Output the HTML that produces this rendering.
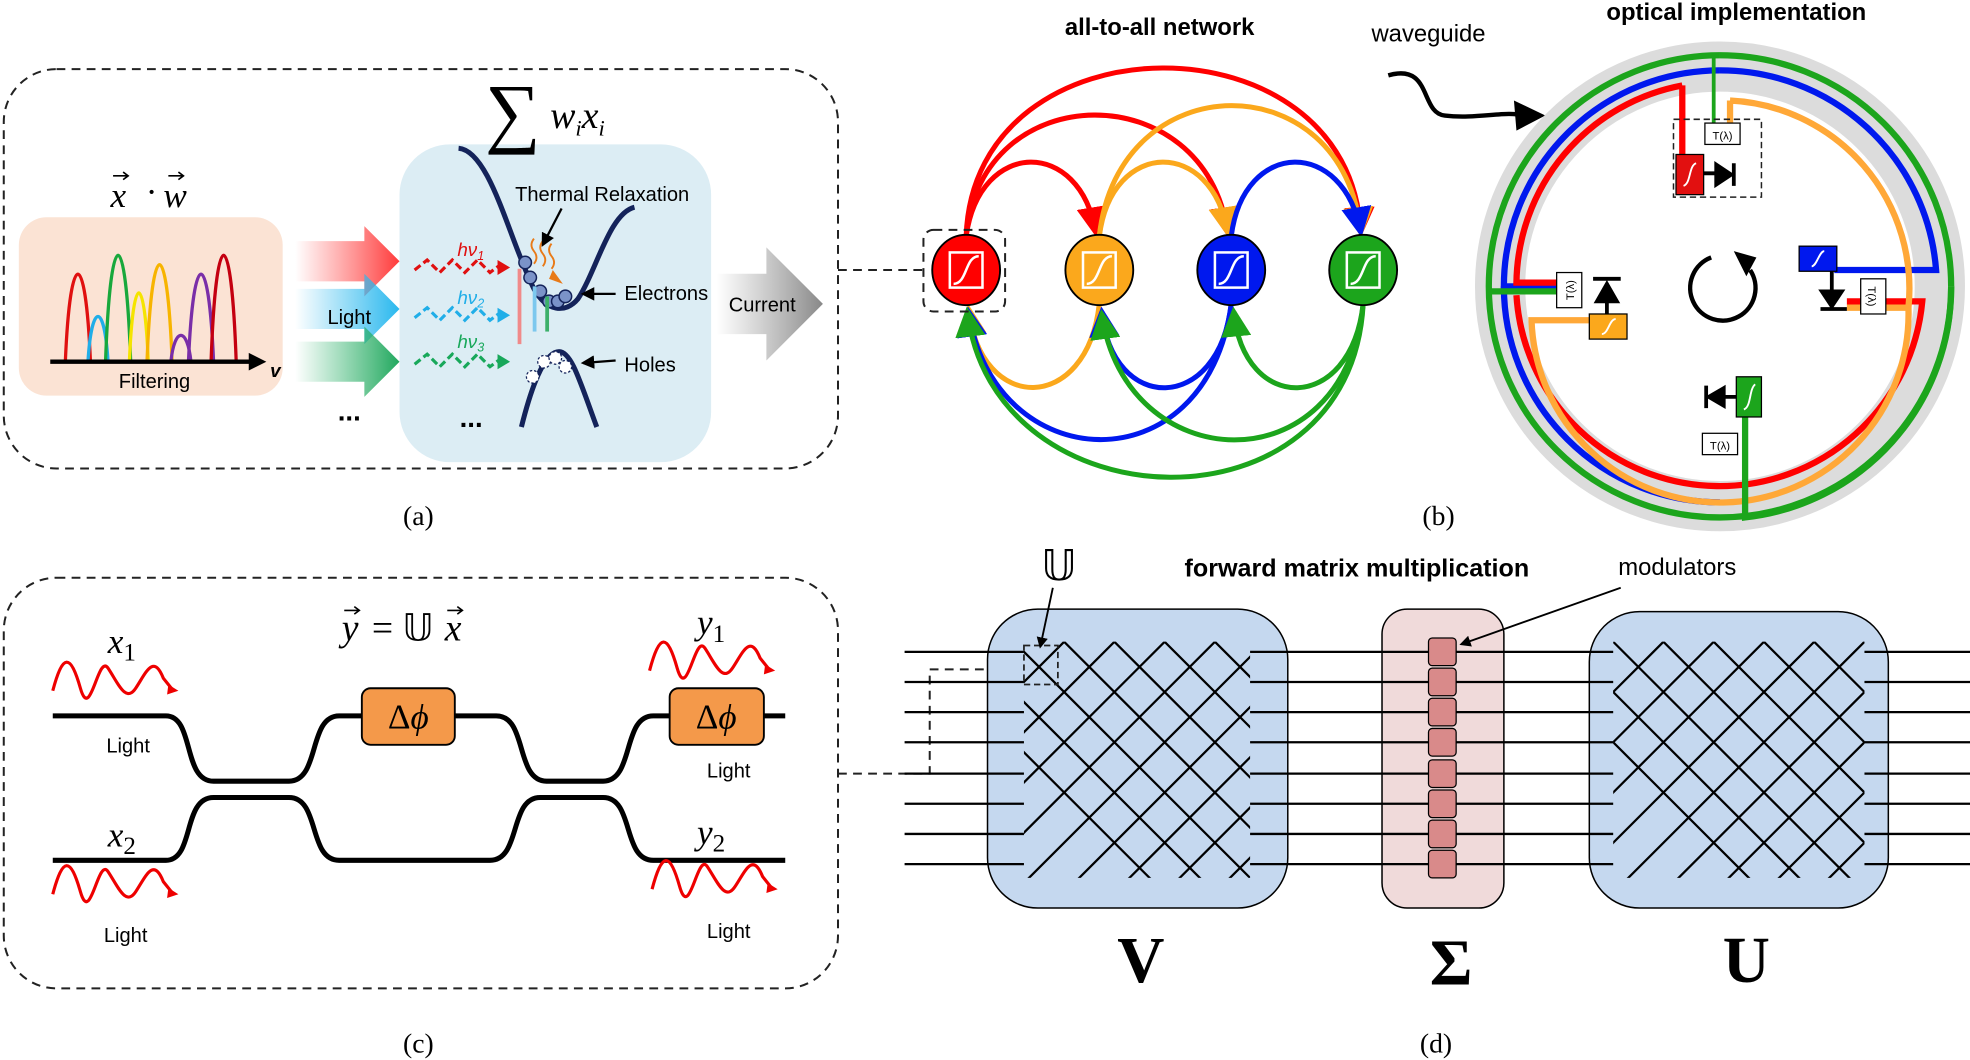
<!DOCTYPE html>
<html><head><meta charset="utf-8"><style>html,body{margin:0;padding:0;background:#fff;width:1970px;height:1060px;overflow:hidden}svg{display:block}</style></head>
<body>
<svg width="1970" height="1060" viewBox="0 0 1568 844" preserveAspectRatio="none" xmlns="http://www.w3.org/2000/svg" font-family="Liberation Sans, sans-serif">
<defs>
<linearGradient id="gR" x1="0" x2="1"><stop offset="0" stop-color="#ff4b4b" stop-opacity="0"/><stop offset="1" stop-color="#ff3b3b"/></linearGradient>
<linearGradient id="gB" x1="0" x2="1"><stop offset="0" stop-color="#2ab8ee" stop-opacity="0"/><stop offset="1" stop-color="#2ab8ee"/></linearGradient>
<linearGradient id="gG" x1="0" x2="1"><stop offset="0" stop-color="#2bb36a" stop-opacity="0"/><stop offset="1" stop-color="#22a85e"/></linearGradient>
<linearGradient id="gK" x1="0" x2="1"><stop offset="0" stop-color="#999" stop-opacity="0"/><stop offset="1" stop-color="#888"/></linearGradient>
<marker id="mr" markerWidth="6" markerHeight="6" refX="5" refY="3" orient="auto" markerUnits="strokeWidth"><path d="M0,0L6,3L0,6z" fill="#f00"/></marker>
<marker id="mo" markerWidth="6" markerHeight="6" refX="5" refY="3" orient="auto" markerUnits="strokeWidth"><path d="M0,0L6,3L0,6z" fill="#fba81c"/></marker>
<marker id="mb" markerWidth="6" markerHeight="6" refX="5" refY="3" orient="auto" markerUnits="strokeWidth"><path d="M0,0L6,3L0,6z" fill="#0018ee"/></marker>
<marker id="mg" markerWidth="6" markerHeight="6" refX="5" refY="3" orient="auto" markerUnits="strokeWidth"><path d="M0,0L6,3L0,6z" fill="#1ca51c"/></marker>
<marker id="mk" markerWidth="6" markerHeight="6" refX="5" refY="3" orient="auto" markerUnits="strokeWidth"><path d="M0,0L6,3L0,6z" fill="#000"/></marker>
<clipPath id="cV"><rect x="815" y="511" width="180" height="188"/></clipPath>
<clipPath id="cU"><rect x="1284" y="511" width="200" height="188"/></clipPath>
</defs>

<!-- ========== (a) ========== -->
<rect x="3" y="55" width="664" height="318" rx="42" fill="none" stroke="#222" stroke-width="1.6" stroke-dasharray="7,5"/>
<rect x="15" y="173" width="210" height="142" rx="22" fill="#fbe3d4"/>
<g fill="none" stroke-width="2.6">
<path d="M52,288C56,195 68,195 72,288" stroke="#e01010"/>
<path d="M70,288C73,240 83,240 86,288" stroke="#20aee8"/>
<path d="M84,288C88,175 100,175 104,288" stroke="#18a83c"/>
<path d="M103,288C106,215 115,215 118,288" stroke="#f5e400"/>
<path d="M117,288C121,185 133,185 137,288" stroke="#f7b400"/>
<path d="M136,288C139,260 149,260 152,288" stroke="#7a2ea8"/>
<path d="M150,288C154,195 166,195 170,288" stroke="#7a2ea8"/>
<path d="M168,288C172,175 184,175 188,288" stroke="#c40010"/>
</g>
<line x1="40" y1="288" x2="200" y2="288" stroke="#000" stroke-width="3.5"/>
<path d="M198,281L212,288L198,295z" fill="#000"/>
<text x="215" y="300" font-size="15" font-weight="bold" font-style="italic">v</text>
<text x="123" y="309" font-size="16" text-anchor="middle">Filtering</text>
<g font-family="Liberation Serif, serif" font-size="28" font-style="italic">
<text x="88" y="165">x</text><text x="116" y="162" font-style="normal">·</text><text x="130" y="165">w</text>
</g>
<g stroke="#000" stroke-width="1.3" fill="none"><path d="M90,140H102M98,137L102,140L98,143"/><path d="M134,140H146M142,137L146,140L142,143"/></g>
<path d="M235,192H290V180L318,208L290,236V224H235z" fill="url(#gR)"/>
<path d="M235,230H290V218L318,246L290,274V262H235z" fill="url(#gB)"/>
<path d="M235,272H290V260L318,288L290,316V304H235z" fill="url(#gG)"/>
<text x="278" y="258" font-size="16" text-anchor="middle">Light</text>
<text x="278" y="335" font-size="22" font-weight="bold" text-anchor="middle">...</text>
<rect x="318" y="115" width="248" height="253" rx="40" fill="#dcedf4"/>
<text x="386" y="110" font-size="62" font-family="Liberation Serif, serif">∑</text>
<text x="438" y="102" font-size="30" font-family="Liberation Serif, serif" font-style="italic">w<tspan font-size="18" dy="6">i</tspan><tspan dy="-6">x</tspan><tspan font-size="18" dy="6">i</tspan></text>
<path d="M365,118C390,120 405,190 425,230C435,248 450,250 460,238C475,215 485,170 505,165" fill="none" stroke="#14235a" stroke-width="4"/>
<path d="M415,340C425,300 435,280 445,280C455,280 462,305 475,340" fill="none" stroke="#14235a" stroke-width="4"/>
<g fill="#7b93c8" stroke="#14235a" stroke-width="1.2">
<circle cx="418" cy="209" r="5"/><circle cx="422" cy="221" r="5"/><circle cx="430" cy="232" r="5"/><circle cx="437" cy="240" r="5"/><circle cx="444" cy="240" r="5"/><circle cx="450" cy="236" r="5"/>
</g>
<g fill="#fff" stroke="#14235a" stroke-width="1" stroke-dasharray="2,1.5"><circle cx="424" cy="300" r="5"/><circle cx="433" cy="288" r="5"/><circle cx="442" cy="285" r="5"/><circle cx="450" cy="292" r="5"/></g>
<g fill="none" stroke-width="2.5" stroke-dasharray="6,3">
<path d="M330,215l10,-8l10,10l10,-10l10,10l10,-10l10,10l8,-6" stroke="#e01010"/>
<path d="M330,253l10,-8l10,10l10,-10l10,10l10,-10l10,10l8,-6" stroke="#20aee8"/>
<path d="M330,290l10,-8l10,10l10,-10l10,10l10,-10l10,10l8,-6" stroke="#18a85a"/>
</g>
<path d="M396,207l10,6l-10,6z" fill="#e01010"/><path d="M396,245l10,6l-10,6z" fill="#20aee8"/><path d="M396,282l10,6l-10,6z" fill="#18a85a"/>
<text x="364" y="204" font-size="15" font-style="italic" fill="#e01010">hν<tspan font-size="10" dy="3">1</tspan></text>
<text x="364" y="242" font-size="15" font-style="italic" fill="#20aee8">hν<tspan font-size="10" dy="3">2</tspan></text>
<text x="364" y="277" font-size="15" font-style="italic" fill="#18a85a">hν<tspan font-size="10" dy="3">3</tspan></text>
<rect x="412" y="214" width="3" height="60" fill="#f08a8a"/><rect x="424" y="228" width="3" height="36" fill="#7cc8ee"/><rect x="434" y="236" width="3" height="28" fill="#3cb06a"/>
<path d="M425,210q4,-5 0,-10q-4,-5 0,-10M432,212q4,-5 0,-10q-4,-5 0,-10M439,214q4,-5 0,-10q-4,-5 0,-10" fill="none" stroke="#e87a18" stroke-width="1.5"/>
<path d="M437,222L448,226L440,215z" fill="#e87a18"/>
<text x="410" y="160" font-size="16">Thermal Relaxation</text>
<line x1="447" y1="166" x2="432" y2="195" stroke="#000" stroke-width="1.8" marker-end="url(#mk)"/>
<text x="497" y="239" font-size="16">Electrons</text>
<line x1="490" y1="234" x2="464" y2="234" stroke="#000" stroke-width="1.8" marker-end="url(#mk)"/>
<text x="497" y="296" font-size="16">Holes</text>
<line x1="490" y1="287" x2="464" y2="289" stroke="#000" stroke-width="1.8" marker-end="url(#mk)"/>
<text x="375" y="340" font-size="22" font-weight="bold" text-anchor="middle">...</text>
<path d="M570,218H610V197L655,242L610,287V266H570z" fill="url(#gK)"/>
<text x="580" y="248" font-size="16">Current</text>
<text x="333" y="418" font-size="22" font-family="Liberation Serif, serif" text-anchor="middle">(a)</text>
<path d="M667,215H735" stroke="#222" stroke-width="1.6" stroke-dasharray="7,5"/>

<!-- ========== (b) network ========== -->
<text x="923" y="28" font-size="19" font-weight="bold" text-anchor="middle">all-to-all network</text>
<g fill="none" stroke-width="4">
<path d="M769,188C775,10 1075,10 1083,185" stroke="#f00" marker-end="url(#mr)"/>
<path d="M769,188C780,60 960,60 977,185" stroke="#f00" marker-end="url(#mr)"/>
<path d="M769,188C780,110 860,110 872,185" stroke="#f00" marker-end="url(#mr)"/>
<path d="M875,188C890,50 1070,50 1083,185" stroke="#fba81c" marker-end="url(#mo)"/>
<path d="M875,188C885,110 965,110 977,185" stroke="#fba81c" marker-end="url(#mo)"/>
<path d="M980,188C990,110 1070,110 1083,185" stroke="#0018ee" marker-end="url(#mb)"/>
<path d="M875,242C865,330 780,330 771,246" stroke="#fba81c" marker-end="url(#mo)"/>
<path d="M980,242C960,390 790,380 771,248" stroke="#0018ee" marker-end="url(#mb)"/>
<path d="M980,242C970,330 885,330 877,248" stroke="#0018ee" marker-end="url(#mb)"/>
<path d="M1085,242C1075,430 790,420 770,248" stroke="#1ca51c" marker-end="url(#mg)"/>
<path d="M1085,242C1070,390 895,380 877,250" stroke="#1ca51c" marker-end="url(#mg)"/>
<path d="M1085,242C1075,330 990,330 982,248" stroke="#1ca51c" marker-end="url(#mg)"/>
</g>
<g stroke="#000" stroke-width="1.5">
<ellipse cx="769" cy="215" rx="27" ry="28" fill="#f00"/>
<ellipse cx="875" cy="215" rx="27" ry="28" fill="#fba81c"/>
<ellipse cx="980" cy="215" rx="27" ry="28" fill="#0018ee"/>
<ellipse cx="1085" cy="215" rx="27" ry="28" fill="#1ca51c"/>
</g>
<g fill="none" stroke="#fff" stroke-width="2">
<rect x="756" y="201" width="26" height="28"/><path d="M759,226C770,226 768,204 779,204"/>
<rect x="862" y="201" width="26" height="28"/><path d="M865,226C876,226 874,204 885,204"/>
<rect x="967" y="201" width="26" height="28"/><path d="M970,226C981,226 979,204 990,204"/>
<rect x="1072" y="201" width="26" height="28"/><path d="M1075,226C1086,226 1084,204 1095,204"/>
</g>
<rect x="735" y="183" width="65" height="65" rx="8" fill="none" stroke="#222" stroke-width="1.6" stroke-dasharray="7,5"/>
<text x="1145" y="418" font-size="22" font-family="Liberation Serif, serif" text-anchor="middle">(b)</text>

<!-- ========== (b) ring ========== -->
<text x="1382" y="16" font-size="19" font-weight="bold" text-anchor="middle">optical implementation</text>
<text x="1137" y="33" font-size="19" text-anchor="middle">waveguide</text>
<path d="M1105,60C1140,50 1130,90 1150,92C1175,95 1200,88 1212,92" fill="none" stroke="#000" stroke-width="3.5"/>
<path d="M1205,80L1230,92L1207,104z" fill="#000"/>
<circle cx="1369" cy="228" r="175" fill="none" stroke="#dcdcdc" stroke-width="40"/>
<g fill="none" stroke-width="5">
<path d="M1369,44A184,184 0 1 0 1553,228" stroke="#1ca51c"/>
<path d="M1369,44A184,184 0 0 1 1553,228" stroke="#1ca51c"/>
<path d="M1369,56A172,172 0 0 1 1541,215H1460" stroke="#0018ee"/>
<path d="M1369,56A172,172 0 0 0 1197,228H1250" stroke="#0018ee"/>
<path d="M1197,228A172,172 0 0 0 1369,400" stroke="#0018ee"/>
<path d="M1339,68A162,162 0 0 0 1207,225H1245M1339,68V125" stroke="#f00"/>
<path d="M1207,235A162,162 0 0 0 1530,240H1470" stroke="#f00"/>
<path d="M1377,80A150,150 0 0 1 1519,245H1470M1377,80V100" stroke="#ffa838"/>
<path d="M1283,255H1219A150,150 0 0 0 1519,245" stroke="#ffa838"/>
<path d="M1389,330V412A184,184 0 0 0 1553,228" stroke="#1ca51c"/>
<path d="M1187,232H1240" stroke="#1ca51c"/>
<path d="M1364,44V100" stroke="#1ca51c" stroke-width="3"/>
</g>
<rect x="1332" y="95" width="70" height="62" fill="none" stroke="#222" stroke-width="1.2" stroke-dasharray="5,3"/>
<rect x="1357" y="98" width="28" height="17" fill="#fff" stroke="#000"/><text x="1371" y="111" font-size="9" text-anchor="middle">T(λ)</text>
<rect x="1334" y="123" width="22" height="32" fill="#e21010" stroke="#000"/>
<path d="M1356,138H1368M1366,131L1378,139L1366,147zM1380,130V148" stroke="#000" stroke-width="3" fill="#000"/>
<rect x="1432" y="196" width="30" height="20" fill="#0018ee" stroke="#000"/>
<path d="M1458,216V235M1450,232L1458,244L1466,232zM1449,246H1470" stroke="#000" stroke-width="3" fill="#000"/>
<rect x="1481" y="222" width="20" height="28" fill="#fff" stroke="#000"/><text x="1491" y="240" font-size="9" text-anchor="middle" transform="rotate(90 1491 236)">T(λ)</text>
<rect x="1239" y="217" width="20" height="28" fill="#fff" stroke="#000"/><text x="1249" y="235" font-size="9" text-anchor="middle" transform="rotate(-90 1249 231)">T(λ)</text>
<path d="M1279,255V236M1271,240L1279,226L1287,240zM1268,222H1290" stroke="#000" stroke-width="3" fill="#000"/>
<rect x="1265" y="250" width="30" height="20" fill="#fba81c" stroke="#000"/>
<rect x="1382" y="300" width="20" height="32" fill="#1ca51c" stroke="#000"/>
<path d="M1382,316H1370M1372,309L1360,316L1372,323zM1358,307V325" stroke="#000" stroke-width="3" fill="#000"/>
<rect x="1355" y="345" width="28" height="17" fill="#fff" stroke="#000"/><text x="1369" y="358" font-size="9" text-anchor="middle">T(λ)</text>
<g fill="none" stroke="#fff" stroke-width="1.5"><path d="M1340,148C1346,146 1344,132 1350,130"/><path d="M1442,212C1446,212 1448,200 1452,200"/><path d="M1275,266C1280,266 1281,254 1286,254"/><path d="M1388,326C1394,324 1392,310 1397,306"/></g>
<path d="M1362,205A26,26 0 1 0 1393,215" fill="none" stroke="#000" stroke-width="3.5"/>
<path d="M1380,200L1398,205L1390,220z" fill="#000"/>

<!-- ========== (c) ========== -->
<rect x="3" y="460" width="664" height="327" rx="42" fill="none" stroke="#222" stroke-width="1.6" stroke-dasharray="7,5"/>
<g fill="none" stroke="#000" stroke-width="4">
<path d="M42,570H132C155,570 145,622 170,622H230C255,622 245,570 270,570H395C420,570 410,622 435,622H480C505,622 495,570 520,570H625"/>
<path d="M42,685H132C155,685 145,635 170,635H230C255,635 245,685 270,685H390C415,685 405,635 430,635H480C505,635 495,685 520,685H625"/>
</g>
<rect x="288" y="548" width="74" height="45" rx="7" fill="#f4994a" stroke="#000" stroke-width="1.5"/>
<rect x="533" y="548" width="75" height="45" rx="7" fill="#f4994a" stroke="#000" stroke-width="1.5"/>
<text x="325" y="580" font-size="28" font-family="Liberation Serif, serif" text-anchor="middle">Δ<tspan font-style="italic">ϕ</tspan></text>
<text x="570" y="580" font-size="28" font-family="Liberation Serif, serif" text-anchor="middle">Δ<tspan font-style="italic">ϕ</tspan></text>
<g fill="none" stroke="#e00" stroke-width="2.5">
<path d="M42,550C50,520 56,520 64,548S78,520 86,532 100,560 108,548 122,520 130,540L138,550"/>
<path d="M42,712C50,682 56,682 64,710S78,682 86,694 100,722 108,710 122,682 130,702L138,712"/>
<path d="M517,534C525,504 531,504 539,532S553,504 561,516 575,544 583,532 597,504 605,524L613,534"/>
<path d="M519,708C527,678 533,678 541,706S555,678 563,690 577,718 585,706 599,678 607,698L615,708"/>
</g>
<g fill="#e00"><path d="M134,545l8,5l-9,3z"/><path d="M134,707l8,5l-9,3z"/><path d="M609,529l8,5l-9,3z"/><path d="M611,703l8,5l-9,3z"/></g>
<g font-family="Liberation Serif, serif" font-style="italic" font-size="28" text-anchor="middle">
<text x="97" y="520">x<tspan font-style="normal" font-size="20" dy="6">1</tspan></text>
<text x="97" y="674">x<tspan font-style="normal" font-size="20" dy="6">2</tspan></text>
<text x="566" y="505">y<tspan font-style="normal" font-size="20" dy="6">1</tspan></text>
<text x="566" y="672">y<tspan font-style="normal" font-size="20" dy="6">2</tspan></text>
</g>
<g font-family="Liberation Serif, serif" font-size="30">
<text x="272" y="510" font-style="italic">y</text><text x="296" y="510">= 𝕌</text><text x="354" y="510" font-style="italic">x</text>
</g>
<g stroke="#000" stroke-width="1.3" fill="none"><path d="M274,486H286M282,483L286,486L282,489"/><path d="M356,486H368M364,483L368,486L364,489"/></g>
<g font-size="16" text-anchor="middle"><text x="102" y="599">Light</text><text x="100" y="750">Light</text><text x="580" y="619">Light</text><text x="580" y="747">Light</text></g>
<text x="333" y="838" font-size="22" font-family="Liberation Serif, serif" text-anchor="middle">(c)</text>
<path d="M667,616H740V533H815" fill="none" stroke="#222" stroke-width="1.6" stroke-dasharray="7,5"/>

<!-- ========== (d) ========== -->
<rect x="786" y="485" width="239" height="238" rx="40" fill="#c5d8ef" stroke="#000" stroke-width="1.2"/>
<rect x="1100" y="485" width="97" height="238" rx="20" fill="#f0dada" stroke="#000" stroke-width="1.2"/>
<rect x="1265" y="487" width="238" height="236" rx="40" fill="#c5d8ef" stroke="#000" stroke-width="1.2"/>
<g stroke="#000" stroke-width="1.8" fill="none">
<path d="M720,519H815M720,543H815M720,567H815M720,591H815M720,616H815M720,640H815M720,664H815M720,688H815"/>
<path d="M995,519H1284M995,543H1284M995,567H1284M995,591H1284M995,616H1284M995,640H1284M995,664H1284M995,688H1284"/>
<path d="M1484,519H1568M1484,543H1568M1484,567H1568M1484,591H1568M1484,616H1568M1484,640H1568M1484,664H1568M1484,688H1568"/>
<g clip-path="url(#cV)">
<path d="M527,311l600,600M567,311l600,600M607,311l600,600M647,311l600,600M687,311l600,600M727,311l600,600M767,311l600,600M807,311l600,600"/>
<path d="M1047,311l-600,600M1087,311l-600,600M1127,311l-600,600M1167,311l-600,600M1207,311l-600,600M1247,311l-600,600M1287,311l-600,600M1327,311l-600,600M1367,311l-600,600"/>
</g>
<g clip-path="url(#cU)">
<path d="M1004,311l600,600M1044,311l600,600M1084,311l600,600M1124,311l600,600M1164,311l600,600M1204,311l600,600M1244,311l600,600M1284,311l600,600"/>
<path d="M1524,311l-600,600M1564,311l-600,600M1604,311l-600,600M1644,311l-600,600M1684,311l-600,600M1724,311l-600,600M1764,311l-600,600M1804,311l-600,600M1844,311l-600,600"/>
</g>
</g>
<g fill="#d98a8a" stroke="#000" stroke-width="1">
<rect x="1137" y="508" width="22" height="22" rx="3"/><rect x="1137" y="532" width="22" height="22" rx="3"/><rect x="1137" y="556" width="22" height="22" rx="3"/><rect x="1137" y="580" width="22" height="22" rx="3"/><rect x="1137" y="605" width="22" height="22" rx="3"/><rect x="1137" y="629" width="22" height="22" rx="3"/><rect x="1137" y="653" width="22" height="22" rx="3"/><rect x="1137" y="677" width="22" height="22" rx="3"/>
</g>
<rect x="815" y="514" width="27" height="31" fill="none" stroke="#222" stroke-width="1.4" stroke-dasharray="5,3"/>
<text x="843" y="462" font-size="34" font-family="Liberation Serif, serif" text-anchor="middle">𝕌</text>
<line x1="838" y1="468" x2="828" y2="515" stroke="#000" stroke-width="1.5" marker-end="url(#mk)"/>
<text x="1080" y="459" font-size="20" font-weight="bold" text-anchor="middle">forward matrix multiplication</text>
<text x="1335" y="458" font-size="19" text-anchor="middle">modulators</text>
<line x1="1290" y1="468" x2="1163" y2="513" stroke="#000" stroke-width="1.5" marker-end="url(#mk)"/>
<g font-family="Liberation Serif, serif" font-weight="bold" font-size="52" text-anchor="middle">
<text x="908" y="782">V</text><text x="1155" y="784">Σ</text><text x="1390" y="782">U</text>
</g>
<text x="1143" y="838" font-size="22" font-family="Liberation Serif, serif" text-anchor="middle">(d)</text>
</svg>
</body></html>
